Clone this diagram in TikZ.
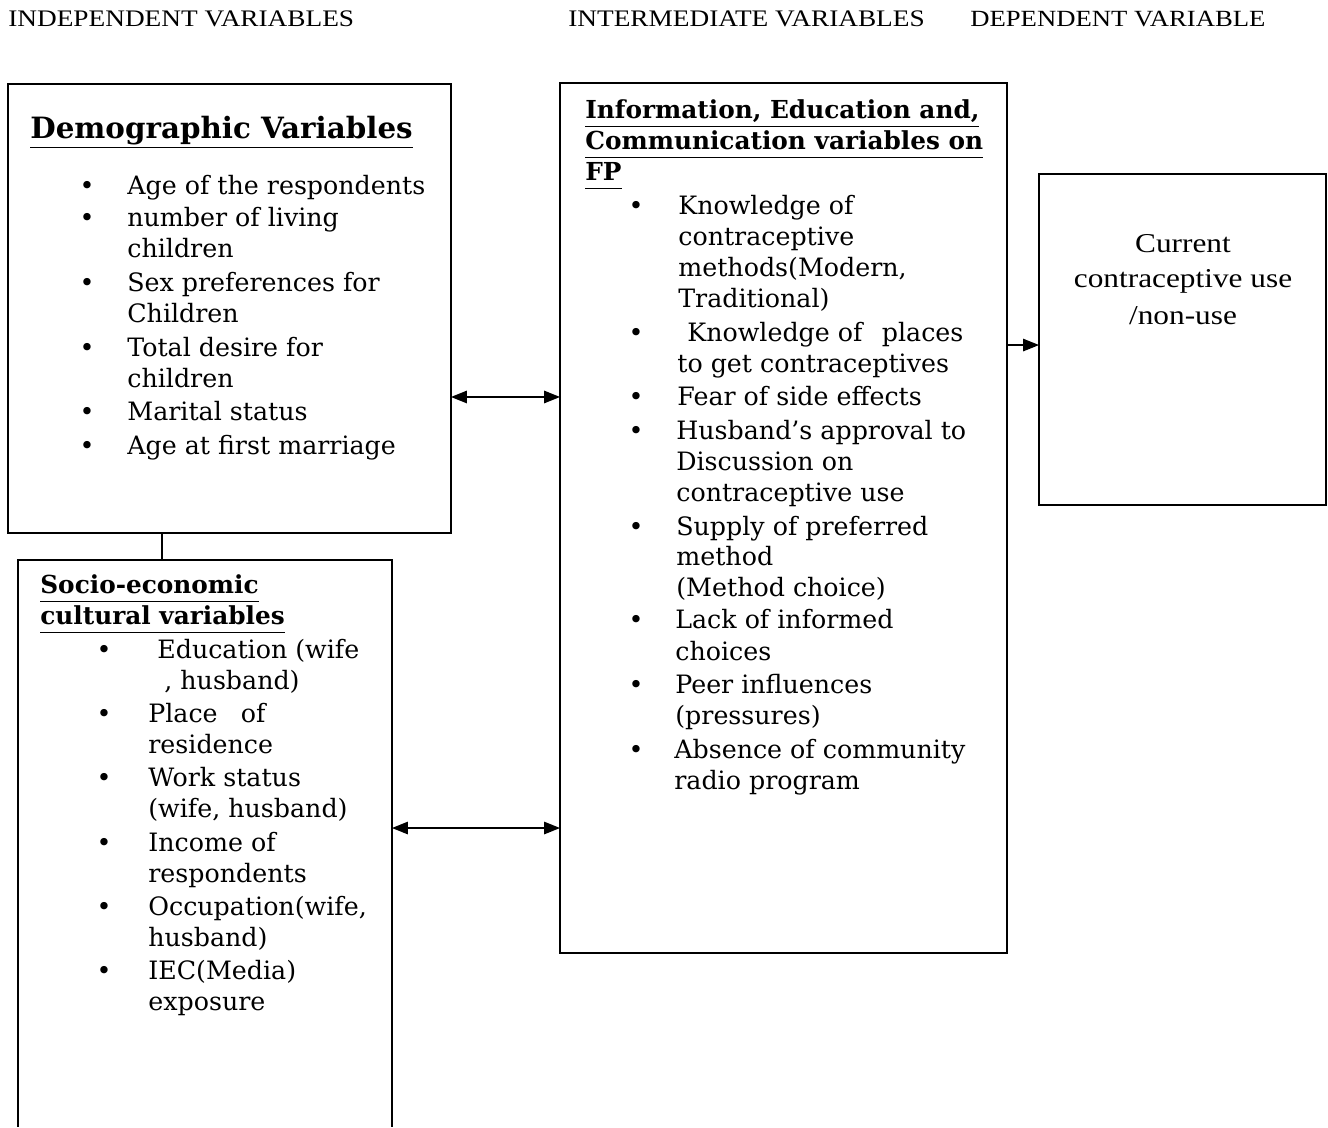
\documentclass[tikz,border=0pt]{standalone}
\usepackage{fontspec}
\setmainfont{DejaVu Serif}
\newfontfamily\tms[FakeStretch=1.15]{Liberation Serif}
\usetikzlibrary{arrows.meta}
\newcommand\myul[1]{\underline{#1\vphantom{g}}}
\begin{document}
\begin{tikzpicture}[x=0.02cm,y=-0.02cm,
 box/.style={draw,line width=0.9pt,inner sep=0,outer sep=0},
 tx/.style={anchor=base west,inner sep=0,font=\fontsize{14.4}{17}\selectfont},
 bul/.style={anchor=base,inner sep=0,font=\fontsize{14.4}{17}\selectfont},
 hd/.style={anchor=base west,inner sep=0,font=\bfseries\fontsize{14.1}{16}\selectfont},
 toplab/.style={anchor=base west,inner sep=0,font=\tms\fontsize{13.5}{16}\selectfont},
 dep/.style={anchor=base,inner sep=0,font=\tms\fontsize{15.5}{18}\selectfont},
 arr/.style={line width=0.9pt,-{Triangle[length=9pt,width=7pt]}},
 darr/.style={line width=0.9pt,{Triangle[length=9pt,width=7pt]}-{Triangle[length=9pt,width=7pt]}}]
\useasboundingbox (0,0) rectangle (1328,1127);

% top labels
\node[toplab] (l1) at (8,26) {INDEPENDENT VARIABLES};
\node[toplab] (l2) at (568,26) {INTERMEDIATE VARIABLES};
\node[toplab,font=\tms\fontsize{13.2}{16}\selectfont] (l3) at (970,26) {DEPENDENT VARIABLE};

% boxes
\node[box,minimum width=8.86cm,minimum height=8.98cm] (demo) at (229.5,308.5) {};
\node[box,minimum width=8.94cm,minimum height=17.4cm] (iec) at (783.5,518) {};
\node[box,minimum width=5.74cm,minimum height=6.62cm] (cur) at (1182.5,339.5) {};
\node[inner sep=0,outer sep=0,minimum width=7.48cm,minimum height=11.34cm] (soc) at (205,843.5) {};
\draw[line width=0.9pt] (soc.south west) -- (soc.north west) -- (soc.north east) -- (soc.south east);

% demographic
\node[anchor=base west,inner sep=0,font=\bfseries\fontsize{16.7}{19}\selectfont] (dt) at (30,138) {\myul{Demographic Variables}};
\foreach \y [count=\i] in {194,226,291,356,420,454} \node[bul] (db\i) at (87,\y) {•};
\node[tx] (d1) at (127,194) {Age of the respondents};
\node[tx] (d2) at (127,226) {number of living};
\node[tx] (d3) at (127,257) {children};
\node[tx] (d4) at (127,291) {Sex preferences for};
\node[tx] (d5) at (127,322) {Children};
\node[tx] (d6) at (127,356) {Total desire for};
\node[tx] (d7) at (127,387) {children};
\node[tx] (d8) at (127,420) {Marital status};
\node[tx] (d9) at (127,454) {Age at first marriage};

% socio-economic
\node[hd] (st1) at (40,593) {\myul{Socio-economic}};
\node[hd] (st2) at (40,624) {\myul{cultural variables}};
\foreach \y [count=\i] in {658,722,786,851,915,979} \node[bul] (sb\i) at (104,\y) {•};
\node[tx] (s1) at (157,658) {Education (wife};
\node[tx] (s2) at (164,689) {, husband)};
\node[tx] (s3) at (148,722) {Place\hspace{0.6em} of};
\node[tx] (s4) at (148,753) {residence};
\node[tx] (s5) at (148,786) {Work status};
\node[tx] (s6) at (148,817) {(wife, husband)};
\node[tx] (s7) at (148,851) {Income of};
\node[tx] (s8) at (148,882) {respondents};
\node[tx] (s9) at (148,915) {Occupation(wife,};
\node[tx] (s10) at (148,946) {husband)};
\node[tx] (s11) at (148,979) {IEC(Media)};
\node[tx] (s12) at (148,1010) {exposure};

% IEC
\node[hd] (it1) at (585,118) {\myul{Information, Education and,}};
\node[hd] (it2) at (585,149) {\myul{Communication variables on}};
\node[hd] (it3) at (585,180) {\myul{FP}};
\foreach \y [count=\i] in {214,341,405,439,535,628,693,758} \node[bul] (ib\i) at (636,\y) {•};
\node[tx] (i1) at (678,214) {Knowledge of};
\node[tx] (i2) at (678,245) {contraceptive};
\node[tx] (i3) at (678,276) {methods(Modern,};
\node[tx] (i4) at (678,307) {Traditional)};
\node[tx] (i5) at (687,341) {Knowledge of\hspace{0.45em} places};
\node[tx] (i6) at (677,372) {to get contraceptives};
\node[tx] (i7) at (677,405) {Fear of side effects};
\node[tx] (i8) at (676,439) {Husband’s approval to};
\node[tx] (i9) at (676,470) {Discussion on};
\node[tx] (i10) at (676,501) {contraceptive use};
\node[tx] (i11) at (676,535) {Supply of preferred};
\node[tx] (i12) at (676,565) {method};
\node[tx] (i13) at (676,596) {(Method choice)};
\node[tx] (i14) at (675,628) {Lack of informed};
\node[tx] (i15) at (675,660) {choices};
\node[tx] (i16) at (675,693) {Peer influences};
\node[tx] (i17) at (675,724) {(pressures)};
\node[tx] (i18) at (674,758) {Absence of community};
\node[tx] (i19) at (674,789) {radio program};

% dependent
\node[dep] (c1) at (1183,252) {Current};
\node[dep] (c2) at (1183,287) {contraceptive use};
\node[dep] (c3) at (1183,324) {/non-use};

% connectors
\draw[line width=0.9pt] ([xshift=3.08cm]demo.south west) -- ([xshift=2.88cm]soc.north west);
\coordinate (a1) at ([yshift=-1.77cm]demo.east);
\draw[darr] (a1) -- (a1 -| iec.west);
\coordinate (a2) at ([yshift=0.31cm]soc.east);
\draw[darr] (a2) -- (a2 -| iec.west);
\coordinate (a3) at ([yshift=3.46cm]iec.east);
\draw[arr] (a3) -- (a3 -| cur.west);
\end{tikzpicture}
\end{document}
